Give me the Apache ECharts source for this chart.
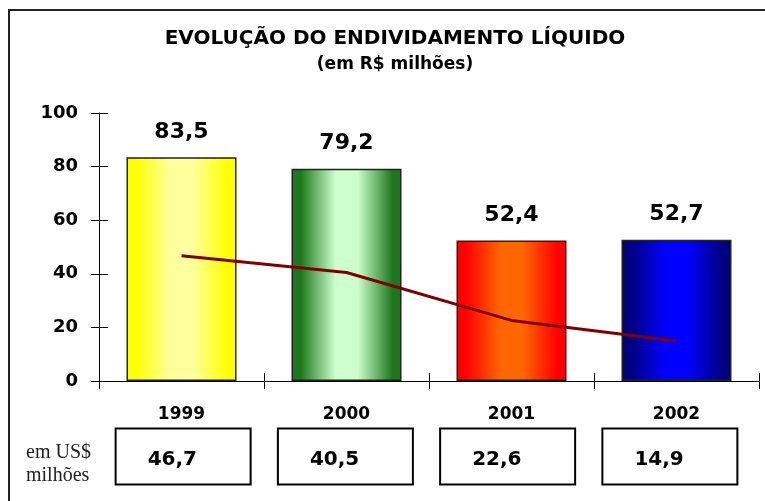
<!DOCTYPE html>
<html>
<head>
<meta charset="utf-8">
<script src="https://cdn.jsdelivr.net/npm/echarts@6/dist/echarts.min.js"></script>
<style>
  html, body { margin: 0; padding: 0; background: #fff; }
  #chart { width: 765px; height: 501px; }
</style>
</head>
<body>
<div id="chart"></div>
<script>
// ---- data ----
const years = ['1999', '2000', '2001', '2002'];
const brlValues = [83.5, 79.2, 52.4, 52.7];   // bars: em R$ milhões
const usdValues = [46.7, 40.5, 22.6, 14.9];   // line + boxes: em US$ milhões
const yMin = 0, yMax = 100, yStep = 20;
const titleText = 'EVOLUÇÃO DO ENDIVIDAMENTO LÍQUIDO';
const subtitleText = '(em R$ milhões)';
const usdCaption = 'em US$\nmilhões';

// ---- styles ----
const barStops = [
  ['#ffff00', '#ffff9e'],
  ['#1c781c', '#ccffcc'],
  ['#ff0000', '#ff6600'],
  ['#000080', '#0000ff']
];
const SANS = 'DejaVu Sans';
const fmt = v => v.toFixed(1).replace('.', ',');

const chart = echarts.init(document.getElementById('chart'), null, { renderer: 'canvas' });

const barData = brlValues.map((v, i) => ({
  value: v,
  itemStyle: {
    color: new echarts.graphic.LinearGradient(0, 0, 1, 0, [
      { offset: 0, color: barStops[i][0] },
      { offset: 0.08, color: barStops[i][0] },
      { offset: 0.4, color: barStops[i][1] },
      { offset: 0.6, color: barStops[i][1] },
      { offset: 0.92, color: barStops[i][0] },
      { offset: 1, color: barStops[i][0] }
    ])
  }
}));

const option = {
  animation: false,
  backgroundColor: '#ffffff',
  title: {
    text: titleText,
    subtext: subtitleText,
    left: 395,
    textAlign: 'center',
    top: 29,
    padding: 0,
    itemGap: 7,
    textStyle: { fontFamily: SANS, fontWeight: 'bold', fontSize: 20, color: '#000' },
    subtextStyle: { fontFamily: SANS, fontWeight: 'bold', fontSize: 17, color: '#000' }
  },
  grid: [
    { left: 99, right: 6, top: 113, bottom: 120, containLabel: false },
    { left: 102, width: 649, top: 380, height: 1, containLabel: false }
  ],
  xAxis: [
    {
      type: 'category', gridIndex: 0, position: 'bottom', data: years,
      axisLine: { show: true, onZero: false, lineStyle: { color: '#000', width: 1 } },
      axisTick: { show: true, length: 8, lineStyle: { color: '#000', width: 1 } },
      axisLabel: { margin: 25, fontFamily: SANS, fontWeight: 'bold', fontSize: 17, color: '#000' },
      splitLine: { show: false }
    },
    {
      type: 'category', gridIndex: 0, position: 'bottom', data: years,
      axisLine: { show: false, onZero: false },
      axisTick: { show: true, inside: true, length: 8, lineStyle: { color: '#000', width: 1 } },
      axisLabel: { show: false },
      splitLine: { show: false }
    },
    {
      type: 'category', gridIndex: 1, position: 'bottom', data: years,
      axisLine: { show: false, onZero: false },
      axisTick: { show: false },
      splitLine: { show: false },
      axisLabel: {
        margin: 51,
        formatter: (v, i) => '{b|' + fmt(usdValues[i]) + '}',
        rich: {
          b: {
            width: 103, height: 49, lineHeight: 49,
            padding: [7, 0, 0, 32],
            align: 'left',
            borderColor: '#000', borderWidth: 2,
            fontFamily: SANS, fontWeight: 'bold', fontSize: 20, color: '#000'
          }
        }
      }
    }
  ],
  yAxis: [
    {
      type: 'value', gridIndex: 0, position: 'left', min: yMin, max: yMax, interval: yStep,
      axisLine: { show: true, lineStyle: { color: '#000', width: 1 } },
      axisTick: { show: true, length: 8, lineStyle: { color: '#000', width: 1 } },
      axisLabel: { margin: 21, fontFamily: SANS, fontWeight: 'bold', fontSize: 18, color: '#000' },
      splitLine: { show: false }
    },
    {
      type: 'value', gridIndex: 0, position: 'left', min: yMin, max: yMax, interval: yStep,
      axisLine: { show: false },
      axisTick: { show: true, inside: true, length: 9, lineStyle: { color: '#000', width: 1 } },
      axisLabel: { show: false },
      splitLine: { show: false }
    },
    { type: 'value', gridIndex: 1, show: false, min: 0, max: 1 }
  ],
  graphic: [
    {
      type: 'rect', silent: true, z: 100,
      shape: { x: 9, y: 10, width: 900, height: 700 },
      style: { fill: 'none', stroke: '#222', lineWidth: 2 }
    },
    {
      type: 'text', left: 26, top: 441, silent: true,
      style: { text: usdCaption, font: '20px "Liberation Serif"', lineHeight: 23, fill: '#222' }
    }
  ],
  series: [
    {
      type: 'bar', xAxisIndex: 0, yAxisIndex: 0,
      data: barData,
      barWidth: 110,
      itemStyle: { borderColor: '#222', borderWidth: 1.5 },
      label: {
        show: true, position: 'top', distance: 14,
        formatter: p => fmt(p.value),
        fontFamily: SANS, fontWeight: 'bold', fontSize: 22, color: '#000'
      },
      z: 2
    },
    {
      type: 'line', xAxisIndex: 0, yAxisIndex: 0,
      data: usdValues,
      symbol: 'none', showSymbol: false,
      lineStyle: { color: '#800000', width: 3 },
      z: 5
    }
  ]
};

chart.setOption(option);
</script>
</body>
</html>
